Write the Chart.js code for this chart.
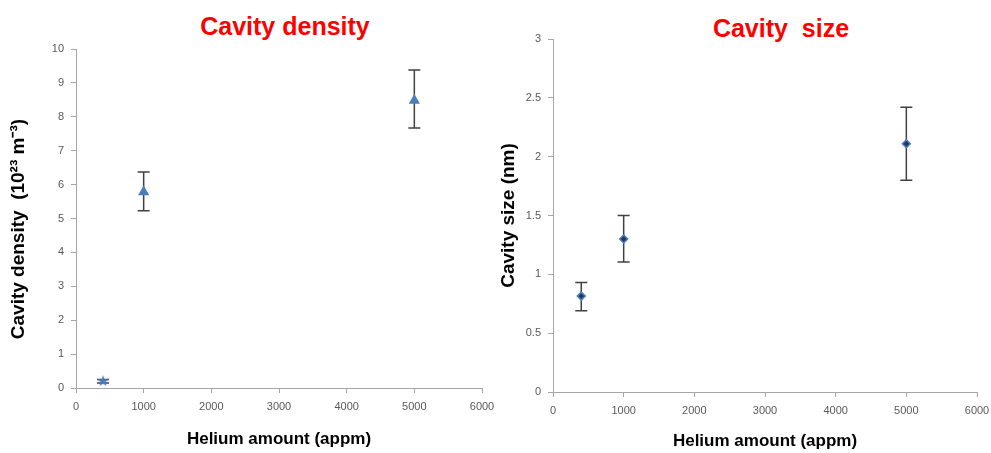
<!DOCTYPE html>
<html>
<head>
<meta charset="utf-8">
<script src="https://cdn.jsdelivr.net/npm/chart.js@4/dist/chart.umd.min.js"></script>
<style>
  body { margin: 0; background: #fff; width: 991px; height: 453px; overflow: hidden; position: relative; }
  canvas { position: absolute; top: 0; }
  #densityChart { left: 0; }
  #sizeChart { left: 495px; }
  .heading {
    position: absolute; width: 200px; text-align: center; white-space: pre;
    font: bold 25px "Liberation Sans", Arial, sans-serif; line-height: 25px; color: #ff0000;
  }
</style>
</head>
<body>
<div class="heading" style="left:185px; top:14px;">Cavity density</div>
<div class="heading" style="left:681px; top:16px;">Cavity  size</div>
<canvas id="densityChart" width="495" height="453"></canvas>
<canvas id="sizeChart" width="496" height="453"></canvas>
<script>
const heliumAppm = [400, 1000, 5000];

const densityValues = [0.2, 5.78, 8.48];
const densityLow = [0.15, 5.23, 7.67];
const densityHigh = [0.25, 6.37, 9.38];

const sizeValues = [0.815, 1.3, 2.11];
const sizeLow = [0.69, 1.105, 1.8];
const sizeHigh = [0.93, 1.5, 2.42];

const xTicks = [0, 1000, 2000, 3000, 4000, 5000, 6000];
const densityTicks = [0, 1, 2, 3, 4, 5, 6, 7, 8, 9, 10];
const sizeTicks = [0, 0.5, 1, 1.5, 2, 2.5, 3];

const FONT = '"Liberation Sans", Arial, sans-serif';
const AXIS_GREY = '#a6a6a6';
const TICK_TEXT = '#595959';

// vertical whiskers with caps, drawn under the markers
const errorBars = {
  id: 'errorBars',
  beforeDatasetsDraw(chart, args, opts) {
    const { ctx, scales: { x, y } } = chart;
    ctx.save();
    ctx.strokeStyle = '#404040';
    ctx.lineWidth = 1.5;
    opts.low.forEach((lo, i) => {
      const px = x.getPixelForValue(opts.x[i]);
      const top = y.getPixelForValue(opts.high[i]);
      const bot = y.getPixelForValue(lo);
      ctx.beginPath();
      ctx.moveTo(px, top);
      ctx.lineTo(px, bot);
      ctx.moveTo(px - 6, top);
      ctx.lineTo(px + 6, top);
      ctx.moveTo(px - 6, bot);
      ctx.lineTo(px + 6, bot);
      ctx.stroke();
    });
    ctx.restore();
  },
};

function starMarker(size, color) {
  const c = document.createElement('canvas');
  c.width = c.height = size;
  const g = c.getContext('2d');
  g.fillStyle = color;
  g.beginPath();
  for (let i = 0; i < 10; i++) {
    const r = i % 2 ? size * 0.21 : size * 0.5;
    const a = -Math.PI / 2 + (i * Math.PI) / 5;
    g.lineTo(size / 2 + r * Math.cos(a), size / 2 + r * Math.sin(a));
  }
  g.closePath();
  g.fill();
  return c;
}

const plainNumber = (v) => String(v);

function makeChart(id, cfg) {
  return new Chart(document.getElementById(id), {
    type: 'scatter',
    data: {
      datasets: [
        {
          data: heliumAppm.map((x, i) => ({ x: x, y: cfg.values[i] })),
          pointStyle: cfg.pointStyle,
          pointRadius: cfg.pointRadius,
          backgroundColor: cfg.fill,
          borderColor: cfg.stroke,
          borderWidth: cfg.strokeWidth,
        },
      ],
    },
    options: {
      responsive: false,
      animation: false,
      layout: { padding: cfg.padding },
      plugins: {
        legend: { display: false },
        tooltip: { enabled: false },
        errorBars: { x: heliumAppm, low: cfg.low, high: cfg.high },
      },
      scales: {
        x: {
          type: 'linear',
          min: 0,
          max: 6000,
          afterBuildTicks: (scale) => { scale.ticks = xTicks.map((v) => ({ value: v })); },
          afterFit: (scale) => {
            scale.height = cfg.xHeight;
            // the layout padding already leaves room for the end labels
            scale.paddingLeft = 0;
            scale.paddingRight = 0;
          },
          grid: { drawOnChartArea: false, color: AXIS_GREY, tickLength: 5 },
          border: { color: AXIS_GREY },
          ticks: { color: TICK_TEXT, padding: 7, font: { family: FONT, size: 11 }, callback: plainNumber },
          title: {
            display: true,
            text: 'Helium amount (appm)',
            color: '#000',
            font: { family: FONT, size: 17, weight: 'bold' },
            padding: { top: 0, bottom: cfg.xTitlePad },
          },
        },
        y: {
          type: 'linear',
          min: 0,
          max: cfg.yTicks[cfg.yTicks.length - 1],
          afterBuildTicks: (scale) => { scale.ticks = cfg.yTicks.map((v) => ({ value: v })); },
          afterFit: (scale) => { scale.width = cfg.yWidth; },
          grid: { drawOnChartArea: false, color: AXIS_GREY, tickLength: 5 },
          border: { color: AXIS_GREY },
          ticks: { color: TICK_TEXT, padding: 7, font: { family: FONT, size: 11 }, callback: plainNumber },
          title: {
            display: true,
            text: cfg.yTitle,
            color: '#000',
            font: { family: FONT, size: 19, weight: 'bold' },
            padding: { top: cfg.yTitlePad, bottom: 0 },
          },
        },
      },
    },
    plugins: [errorBars],
  });
}

makeChart('densityChart', {
  values: densityValues,
  low: densityLow,
  high: densityHigh,
  yTicks: densityTicks,
  // trailing spaces push the label toward the bottom of the axis
  yTitle: 'Cavity density  (10²³ m⁻³)    ',
  pointStyle: [starMarker(12, '#4a7ebb'), 'triangle', 'triangle'],
  pointRadius: 6.5,
  fill: '#4a7ebb',
  stroke: '#4a7ebb',
  strokeWidth: 0,
  padding: { top: 49, right: 13, left: 0, bottom: 0 },
  xHeight: 65,
  yWidth: 76,
  xTitlePad: 3,
  yTitlePad: 7,
});

makeChart('sizeChart', {
  values: sizeValues,
  low: sizeLow,
  high: sizeHigh,
  yTicks: sizeTicks,
  yTitle: 'Cavity size (nm)',
  pointStyle: 'rectRot',
  pointRadius: 4,
  fill: '#1f3a60',
  stroke: '#4f81bd',
  strokeWidth: 1.5,
  padding: { top: 39, right: 14, left: 0, bottom: 0 },
  xHeight: 61,
  yWidth: 58,
  xTitlePad: 1,
  yTitlePad: 2,
});
</script>
</body>
</html>
